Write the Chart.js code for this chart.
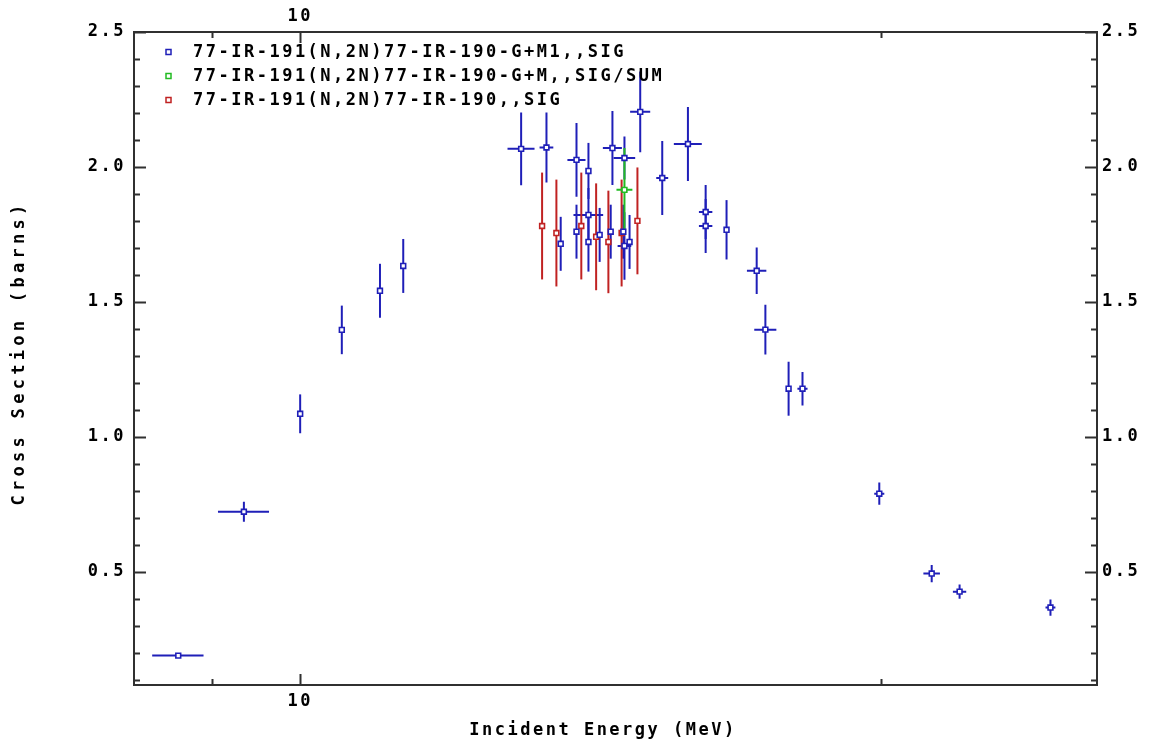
<!DOCTYPE html>
<html><head><meta charset="utf-8">
<script src="https://cdn.jsdelivr.net/npm/chart.js@4.4.1/dist/chart.umd.min.js"></script>
<style>html,body{margin:0;padding:0;background:#fff;overflow:hidden}canvas{display:block}</style>
</head><body>
<canvas id="c" width="1153" height="744"></canvas>
<script>
// ---------------- data ----------------
const SERIES_NAMES = [
  "77-IR-191(N,2N)77-IR-190-G+M1,,SIG",
  "77-IR-191(N,2N)77-IR-190-G+M,,SIG/SUM",
  "77-IR-191(N,2N)77-IR-190,,SIG"
];
const SERIES_COLORS = ["#1f1fb8", "#22bb22", "#c02222"];

// blue: 77-IR-191(N,2N)77-IR-190-G+M1,,SIG
const S1_E    = [8.645, 9.35, 10.00, 10.51, 11.00, 11.31, 13.02, 13.42, 13.65, 13.91, 13.91, 14.11, 14.11, 14.11, 14.30, 14.49, 14.52, 14.71, 14.73, 14.73, 14.82, 15.01, 15.41, 15.89, 16.23, 16.23, 16.64, 17.25, 17.43, 17.92, 18.22, 19.97, 21.26, 21.98, 24.50];
const S1_SIG  = [0.189, 0.722, 1.085, 1.396, 1.541, 1.633, 2.067, 2.072, 1.715, 2.026, 1.760, 1.985, 1.822, 1.722, 1.748, 1.760, 2.070, 1.760, 2.033, 1.707, 1.722, 2.204, 1.959, 2.085, 1.833, 1.781, 1.767, 1.615, 1.397, 1.178, 1.178, 0.789, 0.493, 0.426, 0.367];
const S1_DE   = [0.265, 0.285, 0, 0, 0, 0, 0.21, 0.11, 0, 0.15, 0, 0, 0.25, 0, 0, 0, 0.165, 0, 0.19, 0.12, 0, 0.18, 0.11, 0.265, 0.13, 0.13, 0, 0.20, 0.23, 0, 0.11, 0.12, 0.21, 0.175, 0.145];
const S1_DSIG = [0.005, 0.037, 0.072, 0.09, 0.10, 0.10, 0.135, 0.13, 0.10, 0.137, 0.10, 0.104, 0.10, 0.11, 0.10, 0.10, 0.137, 0.10, 0.08, 0.125, 0.10, 0.15, 0.137, 0.137, 0.10, 0.10, 0.11, 0.086, 0.092, 0.10, 0.062, 0.041, 0.032, 0.026, 0.03];

// green: 77-IR-191(N,2N)77-IR-190-G+M,,SIG/SUM
const S2_E    = [14.73];
const S2_SIG  = [1.915];
const S2_DE   = [0.14];
const S2_DSIG = [0.155];

// red: 77-IR-191(N,2N)77-IR-190,,SIG
const S3_E    = [13.35, 13.58, 13.99, 14.24, 14.45, 14.68, 14.96];
const S3_SIG  = [1.781, 1.755, 1.781, 1.741, 1.722, 1.755, 1.800];
const S3_DE   = [0, 0, 0, 0, 0, 0, 0];
const S3_DSIG = [0.198, 0.198, 0.198, 0.198, 0.19, 0.198, 0.198];

const X_TICKS = [9, 10, 20];
const X_LABELS = {10: "10"};
const Y_TICKS = [0.5, 1.0, 1.5, 2.0, 2.5];
const X_TITLE = "Incident Energy (MeV)";
const Y_TITLE = "Cross Section (barns)";

// ---------------- chart ----------------
const FONT = {family: "'DejaVu Sans Mono', monospace", size: 17, weight: "bold"};
const FONT_CSS = "bold 17px 'DejaVu Sans Mono', monospace";

function mk(E, S, DE, DS, idx) {
  return {
    label: SERIES_NAMES[idx],
    data: E.map((e, i) => ({x: e, y: S[i]})),
    errX: DE, errY: DS,
    borderColor: SERIES_COLORS[idx],
    backgroundColor: "#ffffff",
    pointStyle: "rect",
    pointRadius: 3.4,
    pointBorderWidth: 1.6,
    showLine: false
  };
}

const spacing = {
  id: "spacing",
  beforeDraw(chart) { chart.ctx.letterSpacing = "2.5px"; }
};

const errorBars = {
  id: "errorBars",
  beforeDatasetsDraw(chart) {
    const ctx = chart.ctx, xs = chart.scales.x, ys = chart.scales.y, a = chart.chartArea;
    ctx.save();
    ctx.beginPath();
    ctx.rect(a.left, a.top, a.right - a.left, a.bottom - a.top);
    ctx.clip();
    ctx.lineWidth = 2;
    ctx.lineCap = "butt";
    chart.data.datasets.forEach(ds => {
      ctx.strokeStyle = ds.borderColor;
      ds.data.forEach((p, i) => {
        const px = xs.getPixelForValue(p.x), py = ys.getPixelForValue(p.y);
        const dx = ds.errX[i], dy = ds.errY[i];
        ctx.beginPath();
        if (dy > 0) {
          ctx.moveTo(px, ys.getPixelForValue(p.y - dy));
          ctx.lineTo(px, ys.getPixelForValue(p.y + dy));
        }
        if (dx > 0) {
          ctx.moveTo(xs.getPixelForValue(p.x - dx), py);
          ctx.lineTo(xs.getPixelForValue(p.x + dx), py);
        }
        ctx.stroke();
      });
    });
    ctx.restore();
  }
};

const frame = {
  id: "frame",
  afterDraw(chart) {
    const ctx = chart.ctx, a = chart.chartArea, xs = chart.scales.x, ys = chart.scales.y;
    ctx.save();
    ctx.strokeStyle = "#303030";
    ctx.lineWidth = 2;
    ctx.strokeRect(a.left, a.top, a.right - a.left, a.bottom - a.top);
    ctx.beginPath();
    // y ticks every 0.1, major every 0.5
    for (let k = 1; k <= 25; k++) {
      const v = k / 10;
      const py = Math.round(ys.getPixelForValue(v)) + 0.5;
      if (py < a.top - 1 || py > a.bottom) continue;
      const len = (k % 5 === 0) ? 12 : 6;
      ctx.moveTo(a.left, py); ctx.lineTo(a.left + len, py);
      ctx.moveTo(a.right, py); ctx.lineTo(a.right - len, py);
    }
    X_TICKS.forEach(v => {
      const px = Math.round(xs.getPixelForValue(v)) + 0.5;
      const len = (v === 10) ? 11 : 6;
      ctx.moveTo(px, a.bottom); ctx.lineTo(px, a.bottom - len);
      ctx.moveTo(px, a.top); ctx.lineTo(px, a.top + len);
    });
    ctx.stroke();

    // axis titles
    ctx.fillStyle = "#000";
    ctx.font = FONT_CSS;
    ctx.textAlign = "center";
    ctx.textBaseline = "middle";
    ctx.fillText(X_TITLE, 603, 731);
    ctx.letterSpacing = "4.3px";
    ctx.translate(20, 353);
    ctx.rotate(-Math.PI / 2);
    ctx.fillText(Y_TITLE, 0, 0);
    ctx.restore();

    // legend
    ctx.save();
    ctx.font = FONT_CSS;
    ctx.textAlign = "left";
    ctx.textBaseline = "middle";
    const rows = [52, 76, 100];
    SERIES_NAMES.forEach((n, i) => {
      ctx.strokeStyle = SERIES_COLORS[i];
      ctx.lineWidth = 1.5;
      ctx.fillStyle = "#fff";
      ctx.fillRect(166, rows[i] - 2.5, 5, 5);
      ctx.strokeRect(166, rows[i] - 2.5, 5, 5);
      ctx.fillStyle = "#000";
      ctx.fillText(n, 193, rows[i] + 1);
    });
    ctx.restore();
  }
};

function xAxis(pos, h, pad) {
  return {
    type: "logarithmic", position: pos, axis: "x",
    min: 8.2, max: 25.9,
    afterBuildTicks: s => { s.ticks = X_TICKS.map(v => ({value: v})); },
    afterFit: s => { s.height = h; },
    grid: {display: false}, border: {display: false},
    ticks: {
      autoSkip: false, maxRotation: 0, padding: pad, color: "#000", font: FONT,
      callback: v => X_LABELS[v] || ""
    }
  };
}
function yAxis(pos, w, pad) {
  return {
    type: "linear", position: pos, axis: "y",
    min: 0.08, max: 2.5,
    afterBuildTicks: s => { s.ticks = Y_TICKS.map(v => ({value: v})); },
    afterFit: s => { s.width = w; },
    grid: {display: false}, border: {display: false},
    ticks: {
      padding: pad, color: "#000", font: FONT,
      callback: v => Number(v).toFixed(1)
    }
  };
}

new Chart(document.getElementById("c"), {
  type: "scatter",
  data: {
    datasets: [
      mk(S1_E, S1_SIG, S1_DE, S1_DSIG, 0),
      mk(S3_E, S3_SIG, S3_DE, S3_DSIG, 2),
      mk(S2_E, S2_SIG, S2_DE, S2_DSIG, 1)
    ]
  },
  options: {
    responsive: false, animation: false, devicePixelRatio: 1,
    layout: {padding: 0},
    plugins: {legend: {display: false}, tooltip: {enabled: false}},
    scales: {
      x: xAxis("bottom", 59, -2),
      x2: xAxis("top", 32, -3),
      y: yAxis("left", 134, 0),
      y2: yAxis("right", 56, -3)
    }
  },
  plugins: [spacing, errorBars, frame]
});
</script>
</body></html>
